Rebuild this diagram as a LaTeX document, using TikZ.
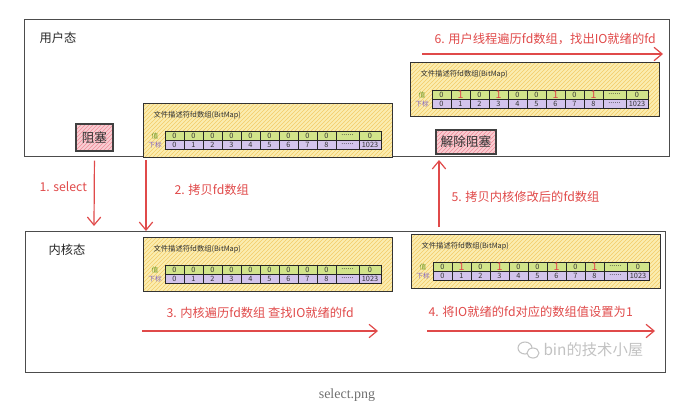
\documentclass[tikz,border=0pt]{standalone}
\usepackage{fontspec}
\newfontfamily\cjk{Noto Sans CJK SC}
\newfontfamily\capfont{Liberation Serif}
\usetikzlibrary{patterns,arrows.meta}

\definecolor{redline}{HTML}{E04A4A}
\definecolor{bmfill}{HTML}{FBEDB0}
\definecolor{bmhatch}{HTML}{F3CC68}
\definecolor{valfill}{HTML}{D2E48A}
\definecolor{idxfill}{HTML}{D3C4EC}
\definecolor{valtext}{HTML}{6E9B2A}
\definecolor{idxtext}{HTML}{8466C2}
\definecolor{blockfill}{HTML}{F9CDD2}
\definecolor{blockhatch}{HTML}{EE8C98}
\definecolor{wmgray}{HTML}{C2C2C2}
\definecolor{capgray}{HTML}{707070}

\tikzset{every picture/.style={line width=0.75pt}}
\tikzset{
  modebox/.style={draw=black!70, line width=1pt, inner sep=0pt},
  statelabel/.style={font=\cjk\fontsize{9.2}{11}\selectfont, text=black!85, inner sep=0.75pt},
  steplabel/.style={font=\cjk\fontsize{9.2}{11}\selectfont, text=redline, inner sep=0.75pt},
  redarrow/.style={draw=redline, line width=0.9pt, -{Straight Barb[length=6pt,width=10pt]}},
  bmbox/.style={draw=black!80, line width=0.9pt, preaction={fill=bmfill}, pattern=north east lines,
    pattern color=bmhatch, minimum width=186.75pt, minimum height=40.5pt, inner sep=0pt},
  bmtitle/.style={font=\cjk\fontsize{5.5}{6}\selectfont, text=black!80, inner sep=0pt},
  valtag/.style={font=\cjk\fontsize{5}{6}\selectfont, text=valtext, inner sep=0pt},
  idxtag/.style={font=\cjk\fontsize{5}{6}\selectfont, text=idxtext, inner sep=0pt},
  cellline/.style={draw=black!85, line width=0.6pt},
  celltext/.style={font=\cjk\fontsize{5.5}{6}\selectfont, text=black!80, inner sep=0pt},
  blockbox/.style={draw=black!75, line width=0.9pt, preaction={fill=blockfill}, pattern=north east lines,
    pattern color=blockhatch, font=\cjk\fontsize{9.5}{11}\selectfont, text=black!80, inner sep=0pt},
}

\newcommand{\one}{\textcolor{redline}{\fontsize{8}{8}\selectfont 1}}
\newcommand{\dotcell}{......}
% cell lists: left/right/value/index
\def\cellsplain{0/19/0/0, 19/38/0/1, 38/57/0/2, 57/76/0/3, 76/95/0/4, 95/114/0/5, 114/133/0/6,
  133/152/0/7, 152/171/0/8, 171/194/\dotcell/\dotcell, 194/216/0/1023}
\def\cellsready{0/19/0/0, 19/38/\one/1, 38/57/0/2, 57/76/\one/3, 76/95/0/4, 95/114/0/5, 114/133/\one/6,
  133/152/0/7, 152/171/\one/8, 171/194/\dotcell/\dotcell, 194/216/0/1023}

% fd bitmap: #1 name, (#2,#3) top left corner, #4 cell list
\newcommand{\fdarray}[4]{%
  \node[bmbox, anchor=north west] (#1) at (#2,#3) {};
  \node[bmtitle, anchor=west] (#1-title) at (#2+10,#3+12) {文件描述符fd数组(BitMap)};
  \node[valtag] (#1-tag1) at (#2+12,#3+32.5) {值};
  \node[idxtag] (#1-tag2) at (#2+12,#3+41.5) {下标};
  \foreach \a/\b/\v/\n [count=\k] in #4 {
    \draw[cellline, fill=valfill] (#2+22+\a,#3+28) rectangle (#2+22+\b,#3+37);
    \draw[cellline, fill=idxfill] (#2+22+\a,#3+37) rectangle (#2+22+\b,#3+46);
    \node[celltext] (#1-v\k) at (#2+22+\a/2+\b/2,#3+32.5) {\v};
    \node[celltext] (#1-i\k) at (#2+22+\a/2+\b/2,#3+41.5) {\n};
  }
}

\begin{document}
\begin{tikzpicture}[x=0.75pt,y=0.75pt,yscale=-1,xscale=1]
\useasboundingbox (0,0) rectangle (697,418);

%Shape: Rectangle [user mode]
\node[modebox, anchor=north west, minimum width=483.75pt, minimum height=102.75pt] (user) at (24,19) {};
%Shape: Rectangle [kernel mode]
\node[modebox, anchor=north west, minimum width=480pt, minimum height=105.75pt] (kernel) at (25,231) {};

% Text Node
\node[statelabel, anchor=west] (userlbl) at (38,38) {用户态};
% Text Node
\node[statelabel, anchor=west] (kernellbl) at (47,250) {内核态};

% fd bitmaps
\fdarray{bmcopy}{143}{103}{\cellsplain}
\fdarray{bmback}{410}{62}{\cellsready}
\fdarray{bmscan}{143}{237}{\cellsplain}
\fdarray{bmset}{411}{234}{\cellsready}

% blocking boxes
\node[blockbox, minimum width=27.75pt, minimum height=20.25pt] (block) at (94.5,137.5) {阻塞};
\node[blockbox, minimum width=45pt, minimum height=18pt] (unblock) at (466,142) {解除阻塞};

% arrow end points
\coordinate (selEnd) at (94,226);
\coordinate (copyStart) at (146,160);
\coordinate (copyEnd) at (146,231);
\coordinate (scanStart) at (142,331);
\coordinate (scanEnd) at (378,331);
\coordinate (setStart) at (427,331);
\coordinate (setEnd) at (655,331);
\coordinate (backStart) at (439,227);
\coordinate (backEnd) at (439,160);
\coordinate (loopStart) at (422,54);
\coordinate (loopEnd) at (663,54);

\draw[redarrow, shorten <=6.75pt] (block.south) -- (selEnd);
\draw[redarrow] (copyStart) -- (copyEnd);
\draw[redarrow] (scanStart) -- (scanEnd);
\draw[redarrow] (setStart) -- (setEnd);
\draw[redarrow] (backStart) -- (backEnd);
\draw[redarrow] (loopStart) -- (loopEnd);

% Text Node
\node[steplabel, anchor=west] (step1) at (38,187) {1. select};
% Text Node
\node[steplabel, anchor=west] (step2) at (173,190) {2. 拷贝fd数组};
% Text Node
\node[steplabel, anchor=west] (step3) at (165,313) {3. 内核遍历fd数组 查找IO就绪的fd};
% Text Node
\node[steplabel, anchor=west] (step4) at (427,312) {4. 将IO就绪的fd对应的数组值设置为1};
% Text Node
\node[steplabel, anchor=west] (step5) at (450,197) {5. 拷贝内核修改后的fd数组};
% Text Node
\node[steplabel, anchor=west] (step6) at (433,39) {6. 用户线程遍历fd数组，找出IO就绪的fd};

% watermark
\draw[wmgray, line width=0.8pt] (525,348) ellipse (7 and 6);
\draw[wmgray, line width=0.8pt, fill=white] (533,353) ellipse (6 and 5);
\node[font=\cjk\fontsize{11.5}{13}\selectfont, text=wmgray, anchor=west, inner sep=0pt] (wmark) at (543,350) {bin的技术小屋};

% caption
\node[font=\capfont\fontsize{10.5}{12}\selectfont, text=capgray, inner sep=0pt] (caption) at (347,395) {select.png};

\end{tikzpicture}
\end{document}
